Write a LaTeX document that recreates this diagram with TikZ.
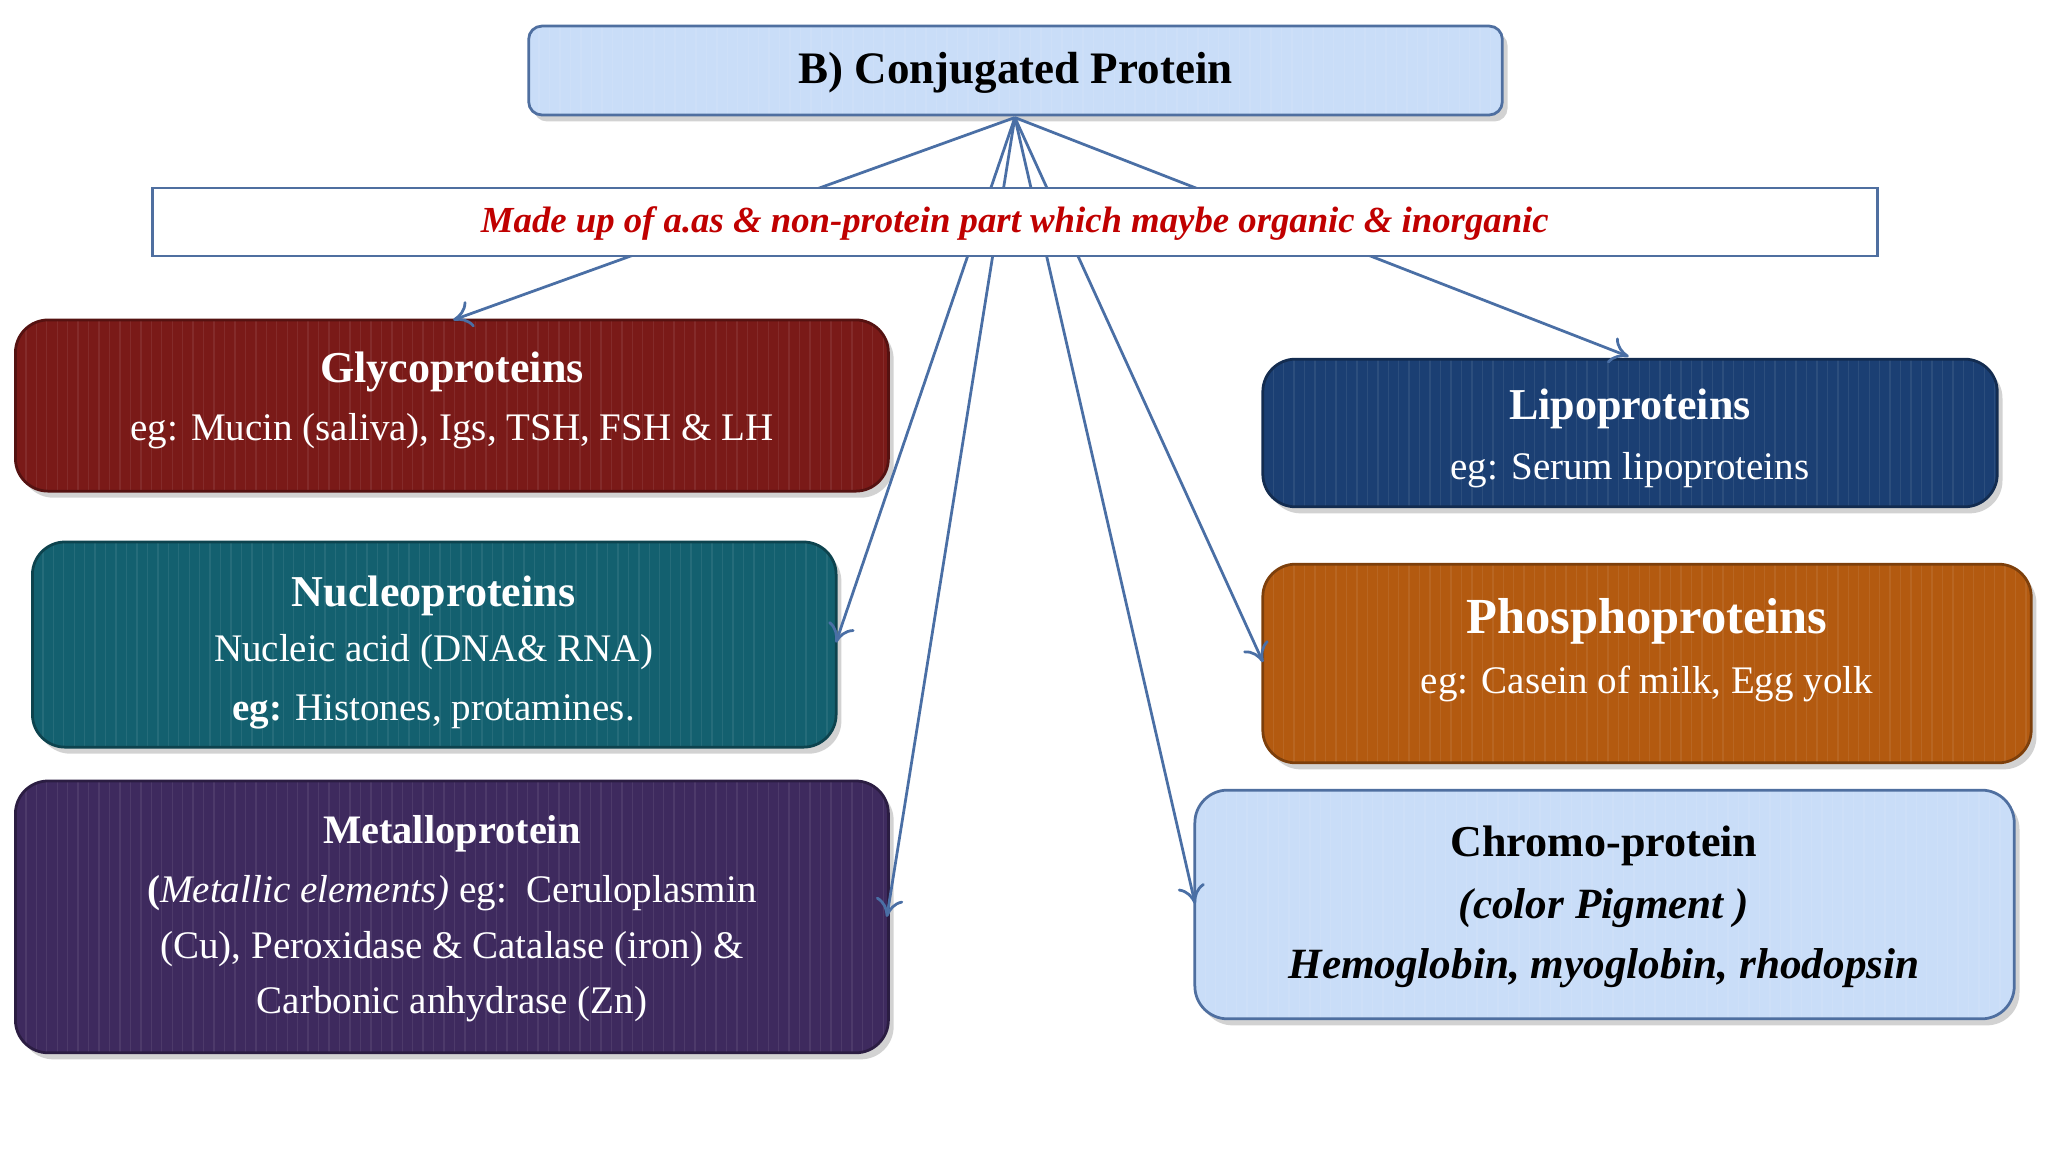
\documentclass[tikz,border=0pt]{standalone}
\usepackage{fontspec}
\setmainfont{Liberation Serif}
\usetikzlibrary{shadows,arrows.meta}
\definecolor{lblue}{HTML}{C9DDF8}
\definecolor{bord}{HTML}{4F6FA0}
\definecolor{lnc}{HTML}{4A6FA5}
\definecolor{cred}{HTML}{7A1A18}
\definecolor{cteal}{HTML}{13606F}
\definecolor{cpur}{HTML}{3E2A5E}
\definecolor{cnavy}{HTML}{1B3F73}
\definecolor{corg}{HTML}{B35A10}
\definecolor{tred}{HTML}{C00000}
\begin{document}
\begin{tikzpicture}[x=0.01cm,y=-0.01cm,
  box/.style={draw=#1!70!black,fill=#1,rounded corners=0.25cm,line width=0.6pt,
    drop shadow={shadow xshift=0.04cm,shadow yshift=-0.05cm,opacity=0.35},
    path picture={\foreach \i in {0,0.08,...,16}{\draw[white,opacity=0.08,line width=0.3pt]
      ([xshift=\i cm]path picture bounding box.south west) -- ([xshift=\i cm]path picture bounding box.north west);}}},
  ln/.style={draw=lnc,line width=0.6pt,-{To[length=4pt,width=6pt]}},
  wt/.style={text=white,align=center,inner sep=0},
  h/.style={font=\fontsize{9.6}{11}\selectfont\bfseries},
  b/.style={font=\fontsize{8.5}{10}\selectfont}]
\useasboundingbox (0,0) rectangle (1568,882);
\fill[white] (0,0) rectangle (1568,882);
% boxes
\node[box=lblue,draw=bord,minimum width=7.45cm,minimum height=0.68cm,rounded corners=0.1cm] (title) at (777.5,54) {};
\node[inner sep=0,font=\fontsize{9.8}{11}\selectfont\bfseries] (tt) at (777.5,56) {B) Conjugated Protein};
\node[box=cred,minimum width=6.68cm,minimum height=1.31cm] (gly) at (346,310.5) {};
\node[box=cteal,minimum width=6.15cm,minimum height=1.57cm] (nuc) at (332.5,493.5) {};
\node[box=cpur,minimum width=6.68cm,minimum height=2.08cm] (met) at (346,702) {};
\node[box=cnavy,minimum width=5.62cm,minimum height=1.13cm] (lip) at (1248,331.5) {};
\node[box=corg,minimum width=5.88cm,minimum height=1.52cm] (pho) at (1261,508) {};
\node[box=lblue,draw=bord,minimum width=6.27cm,minimum height=1.75cm] (chr) at (1228.5,692.5) {};
% connectors
\coordinate (ap) at (777,90);
\draw[ln] (ap) -- (347,245);
\draw[ln] (ap) -- (1247,273);
\draw[ln] (ap) -- (640,492);
\draw[ln] (ap) -- (679,702);
\draw[ln] (ap) -- (967,507);
\draw[ln] (ap) -- (915,692);
% label box
\node[draw=bord,fill=white,line width=0.6pt,minimum width=13.2cm,minimum height=0.52cm,inner sep=0] (lab) at (777,170) {};
\node[inner sep=0,text=tred,font=\fontsize{8}{9}\selectfont\bfseries\itshape] (labt) at (777,171)
  {Made up of a.as \& non-protein part which maybe organic \& inorganic};
% texts
\node[wt,h] (g1) at (346,285) {Glycoproteins};
\node[wt,b] (g2) at (346,330) {eg: Mucin (saliva), Igs, TSH, FSH \& LH};
\node[wt,h] (n1) at (332,456) {Nucleoproteins};
\node[wt,b] (n2) at (332,499) {Nucleic acid (DNA\& RNA)};
\node[wt,b] (n3) at (332,545) {\textbf{eg:} Histones, protamines.};
\node[wt,font=\fontsize{8.8}{10}\selectfont\bfseries] (m1) at (346,638) {Metalloprotein};
\node[wt,b] (m2) at (346,684) {\textbf{(}\textit{Metallic elements)} eg:\ \ Ceruloplasmin};
\node[wt,b] (m3) at (346,727) {(Cu), Peroxidase \& Catalase (iron) \&};
\node[wt,b] (m4) at (346,769) {Carbonic anhydrase (Zn)};
\node[wt,h] (l1) at (1248,313) {Lipoproteins};
\node[wt,b] (l2) at (1248,360) {eg: Serum lipoproteins};
\node[wt,font=\fontsize{11}{12}\selectfont\bfseries] (p1) at (1261,476) {Phosphoproteins};
\node[wt,b] (p2) at (1261,524) {eg: Casein of milk, Egg yolk};
\node[inner sep=0,align=center,h] (c1) at (1228,648) {Chromo-protein};
\node[inner sep=0,font=\fontsize{9.4}{11}\selectfont\bfseries\itshape] (c2) at (1228,695) {(color Pigment )};
\node[inner sep=0,font=\fontsize{9.4}{11}\selectfont\bfseries\itshape] (c3) at (1228,741) {Hemoglobin, myoglobin, rhodopsin};
\end{tikzpicture}
\end{document}
